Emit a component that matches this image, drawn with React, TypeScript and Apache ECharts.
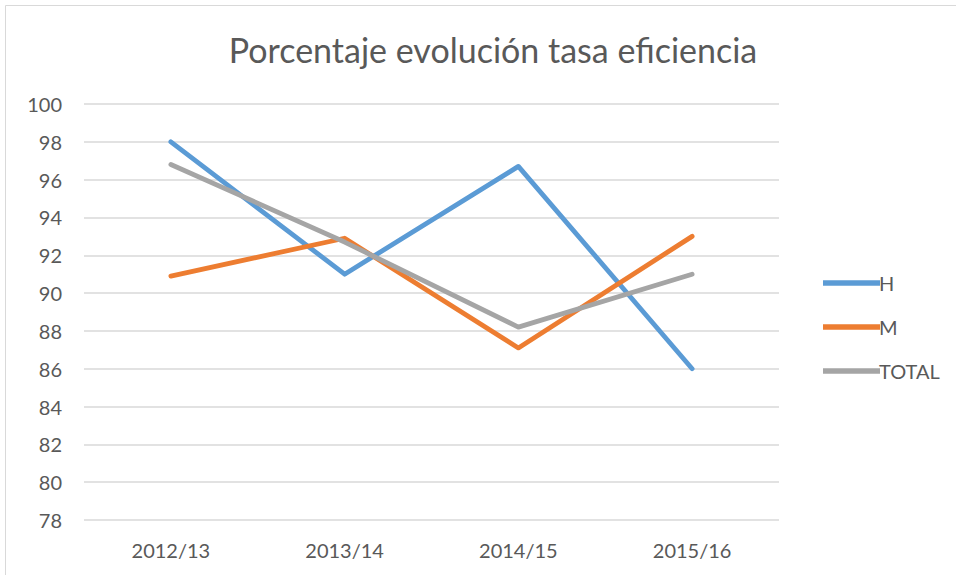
import React, { useEffect, useRef } from "react";
import * as echarts from "echarts";

const categories = ["2012/13", "2013/14", "2014/15", "2015/16"];
const seriesH = [98.0, 91.0, 96.7, 86.0];
const seriesM = [90.9, 92.9, 87.1, 93.0];
const seriesTotal = [96.8, 92.7, 88.2, 91.0];
const seriesNames = ["H", "M", "TOTAL"];
const colors = ["#5B9BD5", "#ED7D31", "#A5A5A5"];
const titleText = "Porcentaje evolución tasa eficiencia";

const FONT = "Lato, 'Noto Sans', sans-serif";

export default function App() {
  const ref = useRef<HTMLDivElement>(null);
  useEffect(() => {
    if (!ref.current) return;
    const chart = echarts.init(ref.current, undefined, { renderer: "svg" });
    const data = [seriesH, seriesM, seriesTotal];
    chart.setOption({
      animation: false,
      backgroundColor: "#ffffff",
      textStyle: { fontFamily: FONT },
      title: {
        text: titleText,
        left: 488,
        textAlign: "center",
        top: 27,
        textStyle: { fontSize: 34, fontWeight: "normal", color: "#595959", fontFamily: FONT },
      },
      graphic: [
        {
          type: "rect",
          shape: { x: 5.5, y: 5.5, width: 960, height: 580 },
          style: { fill: "none", stroke: "#D9D9D9", lineWidth: 1 },
          silent: true,
        },
      ],
      legend: {
        orient: "vertical",
        left: 818,
        top: 268,
        itemWidth: 57,
        itemHeight: 14,
        itemGap: 24,
        data: seriesNames.map((n, i) => ({
          name: n,
          icon: "path://M0,0 L100,0 L100,10 L0,10 Z",
          itemStyle: { color: colors[i] },
        })),
        textStyle: { fontSize: 20, color: "#595959", fontFamily: FONT, padding: [0, 0, 0, -6] },
      },
      grid: { left: 84, right: 177, top: 104, bottom: 55, containLabel: false },
      xAxis: {
        type: "category",
        data: categories,
        boundaryGap: true,
        axisLine: { show: false },
        axisTick: { show: false },
        axisLabel: { fontSize: 20, color: "#595959", margin: 20, fontFamily: FONT },
      },
      yAxis: {
        type: "value",
        min: 78,
        max: 100,
        interval: 2,
        axisLine: { show: false },
        axisTick: { show: false },
        axisLabel: { fontSize: 20, color: "#595959", margin: 22, fontFamily: FONT },
        splitLine: { lineStyle: { color: "#D9D9D9", width: 1.5 } },
      },
      series: seriesNames.map((n, i) => ({
        name: n,
        type: "line",
        data: data[i],
        symbol: "none",
        color: colors[i],
        lineStyle: { color: colors[i], width: 4.8, cap: "round", join: "round" },
      })),
    });
    return () => chart.dispose();
  }, []);
  return (
    <div
      ref={ref}
      style={{ position: "fixed", left: 0, top: 0, width: 956, height: 575 }}
    />
  );
}
